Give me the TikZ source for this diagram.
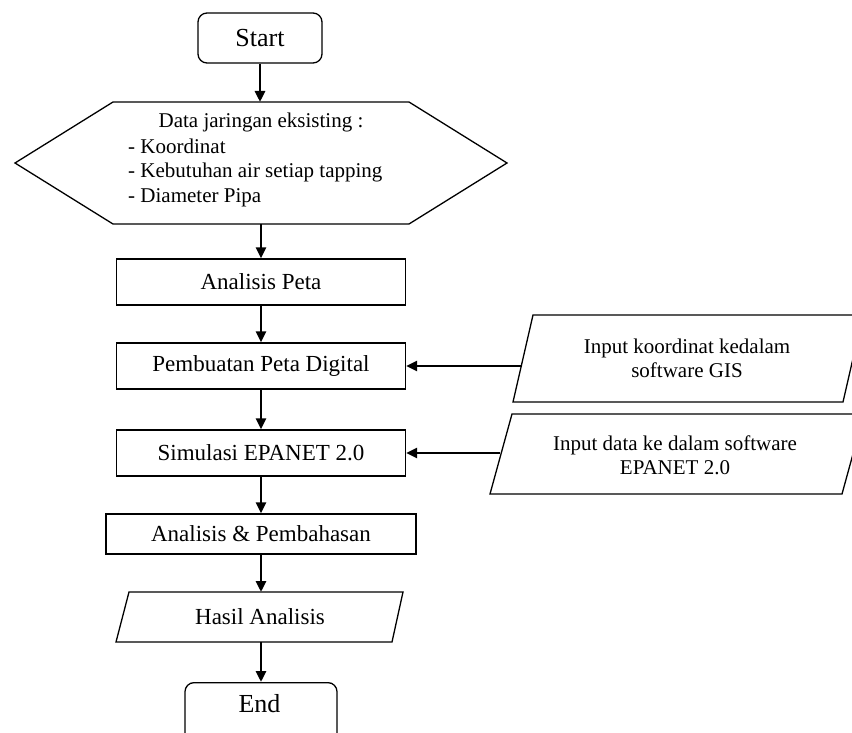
\documentclass[tikz,border=0pt]{standalone}
\usepackage{fontspec}
\setmainfont{Liberation Serif}
\usetikzlibrary{arrows.meta}
\begin{document}
\begin{tikzpicture}[x=1pt,y=-1pt,
  box/.style={draw, line width=1.3pt, inner sep=0pt, font=\fontsize{23}{27}\selectfont},
  term/.style={box, rounded corners=9pt, font=\fontsize{26}{30}\selectfont},
  txt/.style={inner sep=0pt, font=\fontsize{21}{24}\selectfont},
  flow/.style={line width=2.8pt, -{Triangle[length=11pt,width=10pt]}},
  shp/.style={draw, line width=1.3pt, line join=miter}]
\useasboundingbox (0,0) rectangle (852,733);
\clip (0,0) rectangle (852,733);

% Start
\node[term, minimum width=124pt, minimum height=50pt] (start) at (260,38) {Start};

% Hexagon
\draw[shp] (15,163) -- (113,102) -- (409,102) -- (507,163) -- (409,224) -- (113,224) -- cycle;
\coordinate (hexT) at (260,102);
\coordinate (hexB) at (261,224);
\node[txt, anchor=base] (hdata) at (261,128) {Data jaringan eksisting :};
\node[txt, anchor=base west] (h1) at (128,154) {- Koordinat};
\node[txt, anchor=base west] (h2) at (128,178) {- Kebutuhan air setiap tapping};
\node[txt, anchor=base west] (h3) at (128,203) {- Diameter Pipa};

% Process boxes
\node[box, minimum width=289pt, minimum height=46pt] (ap) at (261,282) {Analisis Peta};
\node[box, minimum width=289pt, minimum height=46pt] (pd) at (261,366) {Pembuatan Peta Digital};
\node[box, minimum width=289pt, minimum height=46pt] (sim) at (261,453) {Simulasi EPANET 2.0};
\node[box, minimum width=310pt, minimum height=40pt] (ab) at (261,534) {Analisis \& Pembahasan};

% Hasil Analisis (parallelogram)
\draw[shp] (129,592) -- (403,592) -- (392,642) -- (116,642) -- cycle;
\coordinate (hasT) at (261,592);
\coordinate (hasB) at (261,642);
\node[box, draw=none] (hasil) at (260,617) {Hasil Analisis};

% End
\node[term, minimum width=152pt, minimum height=80pt, anchor=north] (end) at (261,682) {};
\node[term, draw=none, anchor=base] (endtxt) at (259.5,712) {End};

% Right inputs
\draw[shp] (533,315) -- (863,315) -- (843,402) -- (513,402) -- cycle;
\node[txt, anchor=base] (in1a) at (687,353) {Input koordinat kedalam};
\node[txt, anchor=base] (in1b) at (687,377) {software GIS};
\coordinate (in1L) at (522,366);

\draw[shp] (512,414) -- (864,414) -- (842,494) -- (490,494) -- cycle;
\node[txt, anchor=base] (in2a) at (675,450) {Input data ke dalam software};
\node[txt, anchor=base] (in2b) at (675,474) {EPANET 2.0};
\coordinate (in2L) at (500,453);

% Connectors
\draw[flow] (start) -- (hexT);
\draw[flow] (hexB) -- (ap);
\draw[flow] (ap) -- (pd);
\draw[flow] (pd) -- (sim);
\draw[flow] (sim) -- (ab);
\draw[flow] (ab) -- (hasT);
\draw[flow] (hasB) -- (end);
\draw[flow] (in1L) -- (pd);
\draw[flow] (in2L) -- (sim);
\end{tikzpicture}
\end{document}
